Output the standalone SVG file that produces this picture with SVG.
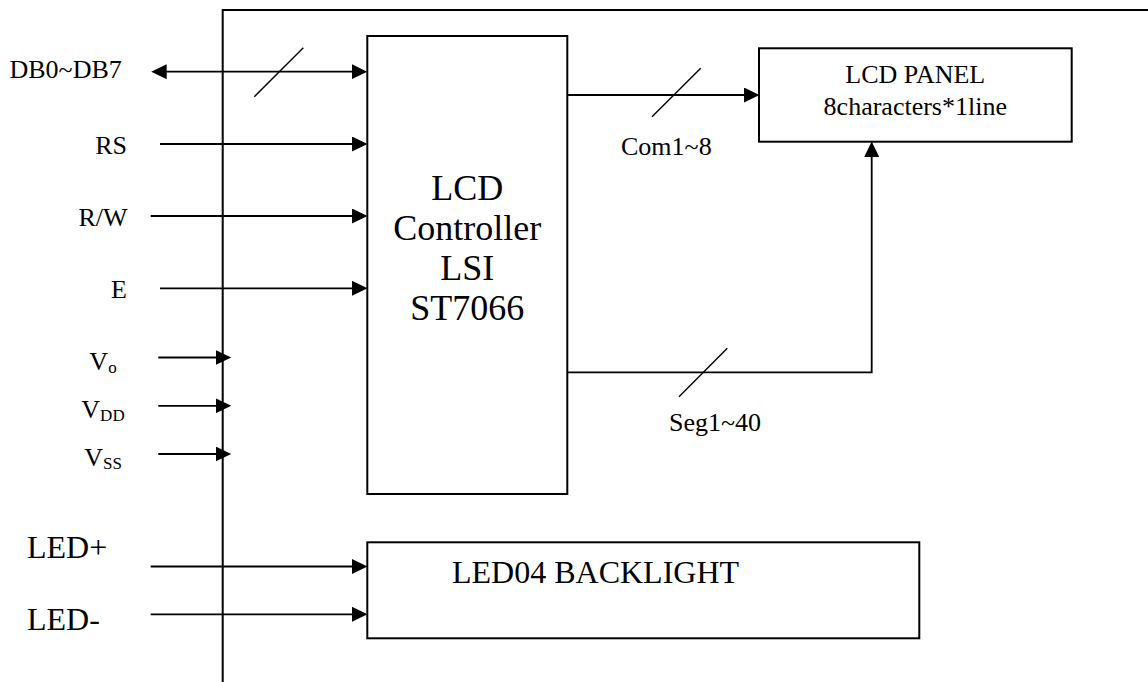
<svg xmlns="http://www.w3.org/2000/svg" width="1148" height="682" viewBox="0 0 1148 682">
  <style>
    .box { fill: none; stroke: #000; stroke-width: 2; }
    .wire { fill: none; stroke: #000; stroke-width: 1.8; }
    .slash { fill: none; stroke: #000; stroke-width: 1.4; }
    .arr { marker-end: url(#ah); }
    text { font-family: "Liberation Serif", "Times New Roman", serif; fill: #000; }
    .s26 { font-size: 26px; }
    .s32 { font-size: 32px; }
    .s36 { font-size: 36px; }
    .sub { font-size: 17px; }
  </style>
  <defs>
    <marker id="ah" markerUnits="userSpaceOnUse" markerWidth="16" markerHeight="15" refX="10" refY="7.5" orient="auto-start-reverse">
      <path d="M0,0 L15.5,7.5 L0,15 Z" fill="#000"/>
    </marker>
  </defs>
  <rect width="1148" height="682" fill="#fff"/>

  <g id="frame">
    <path class="box" d="M222.7,682 V10 H1148"/>
  </g>

  <g id="controller">
    <rect class="box" x="367.3" y="36" width="200" height="458"/>
    <text class="s36" text-anchor="middle" x="467.3" y="200">LCD</text>
    <text class="s36" text-anchor="middle" x="467.3" y="240">Controller</text>
    <text class="s36" text-anchor="middle" x="467.3" y="280">LSI</text>
    <text class="s36" text-anchor="middle" x="467.3" y="320">ST7066</text>
  </g>

  <g id="lcd-panel">
    <rect class="box" x="759" y="48.3" width="312.7" height="93.4"/>
    <text class="s26" text-anchor="middle" x="915.3" y="82.7">LCD PANEL</text>
    <text class="s26" text-anchor="middle" x="915.3" y="114.5">8characters*1line</text>
  </g>

  <g id="backlight">
    <rect class="box" x="367.3" y="542.3" width="552" height="96"/>
    <text class="s32" x="452" y="583">LED04 BACKLIGHT</text>
  </g>

  <g id="labels">
    <text class="s26" x="9.5" y="78.3">DB0~DB7</text>
    <text class="s26" text-anchor="end" x="127" y="154">RS</text>
    <text class="s26" text-anchor="end" x="127.5" y="226">R/W</text>
    <text class="s26" text-anchor="end" x="127" y="298.3">E</text>
    <text class="s26" text-anchor="middle" x="103" y="370">V<tspan class="sub" dy="3">o</tspan></text>
    <text class="s26" text-anchor="middle" x="103" y="417.7">V<tspan class="sub" dy="3">DD</tspan></text>
    <text class="s26" text-anchor="middle" x="103" y="465.7">V<tspan class="sub" dy="3">SS</tspan></text>
    <text class="s32" x="27" y="558">LED+</text>
    <text class="s32" x="27" y="630">LED-</text>
    <text class="s26" x="621" y="155">Com1~8</text>
    <text class="s26" x="669" y="430.7">Seg1~40</text>
  </g>

  <g id="connectors">
    <line class="wire" x1="156.7" y1="71.7" x2="361.7" y2="71.7" marker-start="url(#ah)" marker-end="url(#ah)"/>
    <line class="slash" x1="254.3" y1="96.7" x2="303.3" y2="47.7"/>
    <line class="wire arr" x1="160" y1="144" x2="362" y2="144"/>
    <line class="wire arr" x1="150.7" y1="216" x2="362" y2="216"/>
    <line class="wire arr" x1="160" y1="288.3" x2="362" y2="288.3"/>
    <line class="wire arr" x1="158.3" y1="357.5" x2="225.7" y2="357.5"/>
    <line class="wire arr" x1="158.3" y1="405.8" x2="225.7" y2="405.8"/>
    <line class="wire arr" x1="158.3" y1="454" x2="225.7" y2="454"/>
    <line class="wire arr" x1="150.7" y1="566.5" x2="362" y2="566.5"/>
    <line class="wire arr" x1="150.7" y1="614.3" x2="362" y2="614.3"/>
    <line class="wire arr" x1="567.3" y1="95" x2="754" y2="95"/>
    <line class="slash" x1="652" y1="116.7" x2="700.7" y2="68.3"/>
    <path class="wire arr" d="M567.3,372.3 H871.7 V147"/>
    <line class="slash" x1="679" y1="396.7" x2="727.3" y2="348.3"/>
  </g>
</svg>
